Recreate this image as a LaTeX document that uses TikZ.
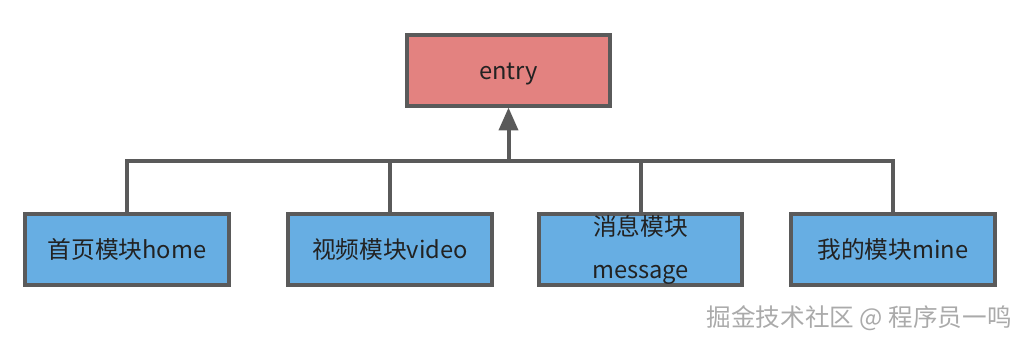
\documentclass[tikz,border=0pt]{standalone}
\usepackage{fontspec}
\setmainfont{Noto Sans CJK SC}
\usetikzlibrary{arrows.meta,positioning}
\definecolor{entryRed}{RGB}{227,130,128}
\definecolor{moduleBlue}{RGB}{103,174,227}
\definecolor{edgeGray}{RGB}{90,90,90}
\definecolor{inkDark}{RGB}{34,34,34}
\definecolor{markGray}{RGB}{170,170,170}
\tikzset{
  box/.style={draw=edgeGray, line width=0.08cm, align=center, minimum width=4.08cm, minimum height=1.42cm, inner sep=0pt, text=inkDark, font=\fontsize{13.5}{24.5}\selectfont},
  entrybox/.style={box, fill=entryRed, text height=0.42cm, text depth=0.06cm},
  modbox/.style={box, fill=moduleBlue},
  bus/.style={draw=edgeGray, line width=0.08cm},
  uparrow/.style={bus, -{Triangle[length=0.46cm,width=0.38cm]}}
}
\begin{document}
\begin{tikzpicture}[x=0.02cm, y=-0.02cm]
        \useasboundingbox (0,0) rectangle (1028,346);
        \node[entrybox] (entry) at (508.5,70) {entry};
        \node[modbox] (home) at (127,249.5) {首页模块home};
        \node[modbox] (video) at (390,249.5) {视频模块video};
        \node[modbox] (msg) at (640.5,249.5) {消息模块\\message};
        \node[modbox] (mine) at (893,249.5) {我的模块mine};
        \coordinate (hub) at (508.5,161);
        \draw[bus] (home.north) |- (hub) -| (mine.north);
        \draw[bus] (video.north) -- (video.north |- hub);
        \draw[bus] (msg.north) -- (msg.north |- hub);
        \draw[uparrow] (hub) -- (entry.south);
        \node[text=markGray, anchor=east, inner sep=0pt, font=\fontsize{14}{16}\selectfont] (mark) at (1012,318) {掘金技术社区 @ 程序员一鸣};
      \end{tikzpicture}
\end{document}
